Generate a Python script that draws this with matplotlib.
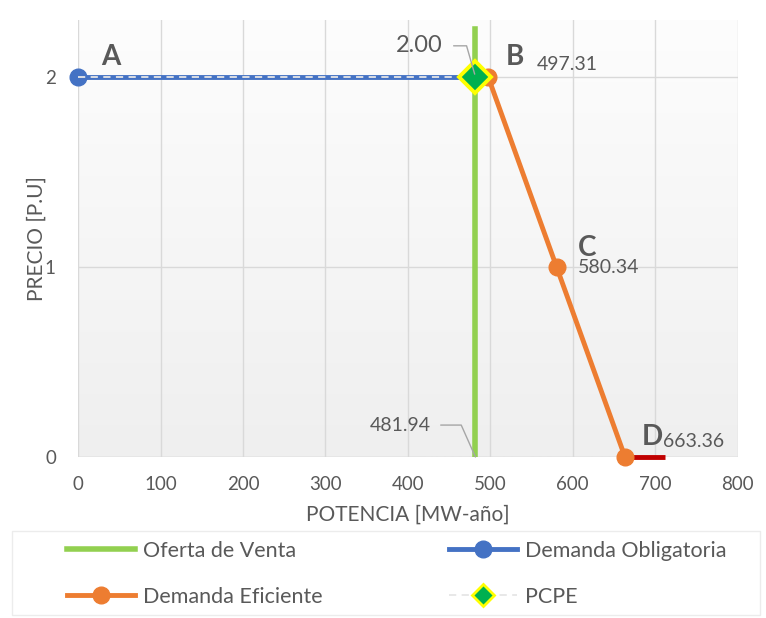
import numpy as np
import matplotlib.pyplot as plt
from matplotlib.colors import LinearSegmentedColormap
from matplotlib.patches import Rectangle

plt.rcParams['font.family'] = ['Lato', 'DejaVu Sans']

# series data
oferta_x = [481.94, 481.94]
oferta_y = [0, 2.25]
oblig_x = [0, 481.94]
oblig_y = [2, 2]
efic_x = [497.31, 580.34, 663.36]
efic_y = [2, 1, 0]
tramo_x = [663.36, 712]
tramo_y = [0, 0]
pcpe_x = [0, 481.94]
pcpe_y = [2, 2]
pcpe_label = "2.00"
oferta_label = "481.94"
point_names = ["A", "B", "C", "D"]

GRAY = '#595959'

fig = plt.figure(figsize=(7.66, 6.18), dpi=100)
ax = fig.add_axes([0.102, 0.2605, 0.861, 0.7075])

# soft vertical gradient behind the plot area
grad = np.linspace(0, 1, 256).reshape(-1, 1)
bg = LinearSegmentedColormap.from_list('bg', ['#efefef', '#fdfdfd'])
ax.imshow(grad, extent=[0, 800, 0, 2.3], aspect='auto', cmap=bg, origin='lower', zorder=0)

ax.set_xlim(0, 800)
ax.set_ylim(0, 2.3)
ax.set_xticks(range(0, 801, 100))
ax.set_yticks([0, 1, 2])
ax.grid(True, color='#d9d9d9', linewidth=1)
ax.set_axisbelow(True)
for s in ax.spines.values():
    s.set_visible(False)
ax.axhline(0, color='#d9d9d9', linewidth=1, zorder=1)
ax.tick_params(axis='x', length=0, labelsize=13.5, colors=GRAY, pad=14)
ax.tick_params(axis='y', length=0, labelsize=13.5, colors=GRAY, pad=16)

l_of, = ax.plot(oferta_x, oferta_y, color='#92d050', linewidth=4, zorder=3, label='Oferta de Venta')
l_ob, = ax.plot(oblig_x, oblig_y, color='#4472c4', linewidth=3.5, marker='o', markersize=12,
                markevery=[0], zorder=3, label='Demanda Obligatoria', clip_on=False)
l_ef, = ax.plot(efic_x, efic_y, color='#ed7d31', linewidth=3.5, marker='o', markersize=12,
                zorder=4, label='Demanda Eficiente', clip_on=False)
ax.plot(tramo_x, tramo_y, color='#c00000', linewidth=3.5, zorder=3, solid_capstyle='butt', clip_on=False)
l_pc, = ax.plot(pcpe_x, pcpe_y, color='#e6e6e6', linewidth=1.3, dashes=(4, 3), marker='D',
                markersize=16, markevery=[1], markerfacecolor='#00b050', markeredgecolor='#ffff00',
                markeredgewidth=2.8, zorder=5, label='PCPE')

# point names and values
name_pos = [(39, 2.105), (530, 2.105), (617, 1.1), (697, 0.105)]
for name, (x, y) in zip(point_names, name_pos):
    ax.text(x, y, name, fontsize=20, fontweight='bold', color=GRAY, ha='center', va='center', zorder=6)
for val, (x, y) in zip(efic_x, [(593, 2.063), (644, 0.995), (747, 0.079)]):
    ax.text(x, y, f"{val:.2f}", fontsize=14, color=GRAY, ha='center', va='center', zorder=6)

# leader-line labels
ax.annotate(pcpe_label, xy=(pcpe_x[1], pcpe_y[1]), xytext=(442, 2.163), fontsize=17, color=GRAY,
            ha='right', va='center', zorder=6,
            arrowprops=dict(arrowstyle='-', color='#a6a6a6', lw=1,
                            connectionstyle='angle,angleA=0,angleB=106,rad=0', shrinkA=6, shrinkB=2))
ax.annotate(oferta_label, xy=(oferta_x[0], 0), xytext=(428, 0.168), fontsize=14, color=GRAY,
            ha='right', va='center', zorder=6,
            arrowprops=dict(arrowstyle='-', color='#a6a6a6', lw=1,
                            connectionstyle='angle,angleA=0,angleB=114,rad=0', shrinkA=5, shrinkB=0))

ax.set_xlabel('POTENCIA [MW-año]', fontsize=15, color=GRAY, labelpad=8)
ax.set_ylabel('PRECIO [P.U]', fontsize=15, color=GRAY, labelpad=-1)

# legend box below the chart
fig.patches.append(Rectangle((12 / 766, 3 / 618), 748 / 766, 84 / 618, transform=fig.transFigure,
                             facecolor='white', edgecolor='#ececec', linewidth=1, zorder=0))
leg = fig.legend(handles=[l_of, l_ef, l_ob, l_pc], loc='upper left', bbox_to_anchor=(67 / 766, 1 - 541 / 618),
                 ncol=2, frameon=False, fontsize=15.5, labelcolor=GRAY, handlelength=3.16,
                 handletextpad=0.37, columnspacing=5.85, labelspacing=1.2, borderpad=0, borderaxespad=0)
# smaller diamond in the PCPE legend entry
leg.legend_handles[3].set_markersize(11)
leg.legend_handles[3].set_markeredgewidth(2)

fig.savefig('out.png', dpi=100)
